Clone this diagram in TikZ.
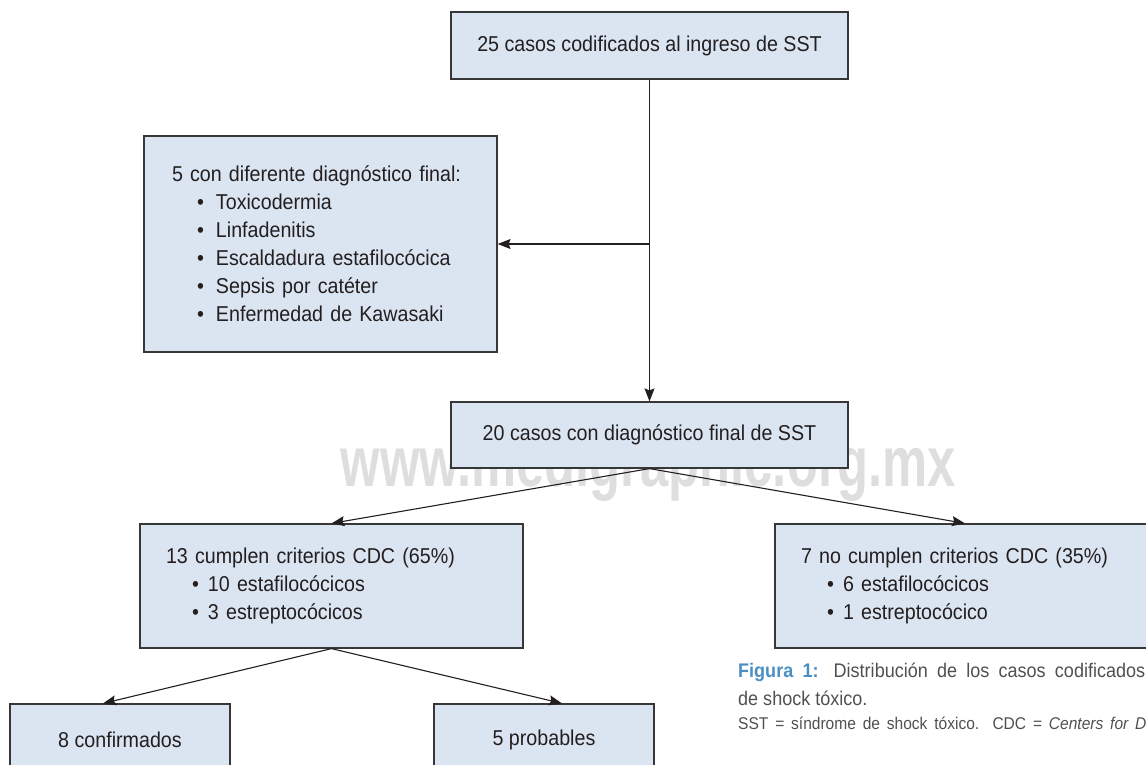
\documentclass[tikz,border=0pt]{standalone}
\usepackage{fontspec}
\setmainfont[FakeStretch=0.915]{Liberation Sans}
\newfontfamily\wmfont[FakeStretch=0.714]{Liberation Sans}
\usetikzlibrary{arrows.meta}
\definecolor{boxfill}{RGB}{219,229,241}
\definecolor{boxline}{RGB}{55,55,55}
\definecolor{txt}{RGB}{35,31,32}
\definecolor{capblue}{RGB}{74,143,196}
\definecolor{capgray}{RGB}{80,80,80}
\definecolor{wm}{RGB}{222,222,222}
\newcommand{\bfont}{\fontsize{21.5}{28}\selectfont}
\newcommand{\bitemA}[1]{\hspace*{25pt}\makebox[19pt][l]{•}#1}
\newcommand{\bitemB}[1]{\hspace*{26pt}\makebox[16pt][l]{•}#1}
\tikzset{
  box/.style={draw=boxline, fill=boxfill, line width=1.2pt, inner sep=0pt, font=\bfont, text=txt},
  conn/.style={line width=1.1pt, draw=txt, -{Stealth[length=13pt,width=10pt,inset=2pt]}},
  captxt/.style={anchor=base west, inner sep=0pt, text=capgray}
}
\begin{document}
\begin{tikzpicture}[x=1pt,y=-1pt]
\useasboundingbox (0,0) rectangle (1146,765);
\clip (0,0) rectangle (1146,765);
% watermark
\node[anchor=base, inner sep=0pt, text=wm, font=\fontsize{71}{71}\wmfont\bfseries] (wmk) at (648.5,486) {www.medigraphic.org.mx};
% boxes
\node[box, minimum width=397pt, minimum height=67pt, align=center] (top) at (649.5,45.5) {25 casos codificados al ingreso de SST};
\node[box, minimum width=353pt, minimum height=216pt, text width=297pt, align=left] (other) at (320.5,244)
  {5 con diferente diagnóstico final:\\ \bitemA{Toxicodermia}\\ \bitemA{Linfadenitis}\\ \bitemA{Escaldadura estafilocócica}\\ \bitemA{Sepsis por catéter}\\ \bitemA{Enfermedad de Kawasaki}};
\node[box, minimum width=397pt, minimum height=66pt, align=center] (mid) at (649.5,435) {20 casos con diagnóstico final de SST};
\node[box, minimum width=383pt, minimum height=124pt, text width=331pt, align=left] (crit) at (331.5,586)
  {13 cumplen criterios CDC (65\%)\\ \bitemB{10 estafilocócicos}\\ \bitemB{3 estreptocócicos}};
\node[box, minimum width=425pt, minimum height=124pt, text width=373pt, align=left] (nocrit) at (987.5,586)
  {7 no cumplen criterios CDC (35\%)\\ \bitemB{6 estafilocócicos}\\ \bitemB{1 estreptocócico}};
\node[box, minimum width=220pt, minimum height=72pt, align=center] (conf) at (120,740) {8 confirmados};
\node[box, minimum width=220pt, minimum height=72pt, align=center] (prob) at (544,740) {5 probables};
% connectors
\coordinate (br) at (649.5,244);
\draw[conn] (top.south) -- (mid.north);
\draw[conn] (br) -- (other.east);
\draw[conn] (mid.south) -- (crit.north);
\draw[conn] (mid.south) -- (nocrit.north -| 965,0);
\draw[conn] (crit.south) -- (conf.north -| 103,0);
\draw[conn] (crit.south) -- (prob.north -| 562,0);
% caption
\node[captxt, font=\fontsize{19.7}{24}\selectfont] (cap1) at (738,677)
  {\makebox[407pt][s]{\textcolor{capblue}{\bfseries Figura 1:} Distribución de los casos codificados}};
\node[captxt, font=\fontsize{19.7}{24}\selectfont] (cap2) at (738,705) {de shock tóxico.};
\node[captxt, font=\fontsize{17}{18}\selectfont] (cap3) at (738,729)
  {\makebox[412pt][s]{SST = síndrome de shock tóxico. CDC = \textit{Centers for Di}}};
\end{tikzpicture}
\end{document}
